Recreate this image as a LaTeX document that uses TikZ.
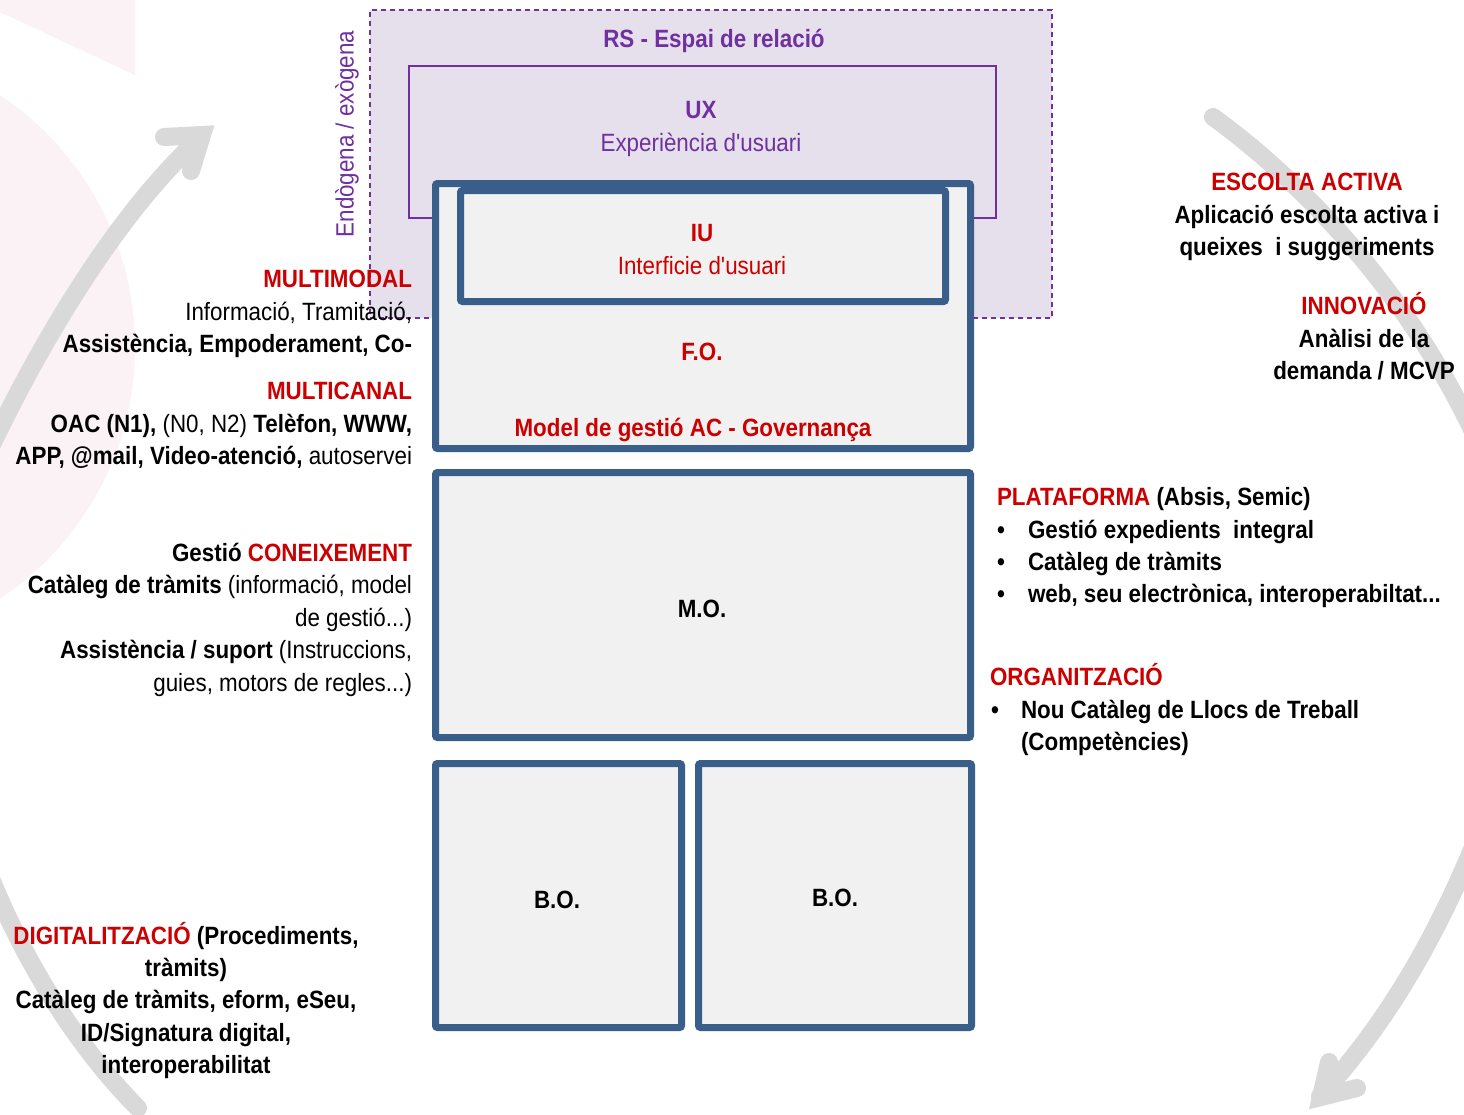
\documentclass[tikz,border=0pt]{standalone}
\usepackage{fontspec}
\setmainfont[FakeStretch=0.895]{Liberation Sans}
\newfontfamily\plainfont[FakeStretch=0.895]{Liberation Sans}
\definecolor{boxblue}{RGB}{58,94,138}
\definecolor{boxfill}{RGB}{241,241,241}
\definecolor{lav}{RGB}{229,224,236}
\definecolor{purp}{RGB}{112,48,160}
\definecolor{redt}{RGB}{204,0,0}
\definecolor{arrowgray}{RGB}{217,217,217}
\definecolor{pinkbg}{RGB}{250,242,244}
\newcommand{\apos}{{\plainfont '}}
\begin{document}
\begin{tikzpicture}[x=1pt,y=-1pt,
  every node/.style={inner sep=0pt, outer sep=0pt, font=\fontsize{25}{32}\selectfont},
  layer/.style={draw=boxblue, line width=7pt, fill=boxfill, rounded corners=2pt},
  cyc/.style={draw=arrowgray, line width=18pt, line cap=round},
  chev/.style={draw=arrowgray, line width=18pt, line cap=round, line join=miter},
  rb/.style={font=\fontsize{25}{32}\selectfont\bfseries, text=redt},
  pb/.style={font=\fontsize{25}{32}\selectfont\bfseries, text=purp},
  bb/.style={font=\fontsize{25}{32}\selectfont\bfseries, text=black},
  le/.style={anchor=base east},
  lw/.style={anchor=base west},
  lc/.style={anchor=base}
]
\clip (0,0) rectangle (1464,1114);
\fill[white] (0,0) rectangle (1464,1114);
% faint pink background shapes
\fill[pinkbg] (0,0) -- (135,0) -- (135,75) -- (0,12) -- cycle;
\fill[pinkbg] (-167,347) circle[radius=302];
% grey cycle arrows
\draw[cyc] (-20,470) .. controls (40,340) and (120,210) .. (200,138);
\draw[chev] (164,137) -- (202,135) -- (191,171);
\draw[cyc] (1213,117) .. controls (1300,180) and (1420,300) .. (1490,470);
\draw[cyc] (1480,830) .. controls (1440,930) and (1390,1020) .. (1320,1096);
\draw[chev] (1329,1062) -- (1321,1097) -- (1357,1088);
\draw[cyc] (-20,850) .. controls (20,960) and (80,1050) .. (138,1108);
% relation space
\node[draw=purp, dashed, dash pattern=on 5pt off 4pt, line width=1.5pt, fill=lav,
      minimum width=682pt, minimum height=308pt] (rs) at (711,164) {};
\node[draw=purp, line width=1.5pt, fill=lav, minimum width=587pt, minimum height=152pt] (ux) at (702.5,142) {};
\node[pb, lc] (rst) at (714,47) {RS - Espai de relació};
\node[pb, lc] (uxt) at (701,118) {UX};
\node[lc, text=purp] (uxs) at (701,151) {Experiència d\apos usuari};
\node[lc, text=purp, rotate=90, anchor=center] (endo) at (347,134) {Endògena / exògena};
% layers
\node[layer, minimum width=535pt, minimum height=265pt] (fo) at (703,316) {};
\node[layer, minimum width=485pt, minimum height=111pt] (iu) at (703,246) {};
\node[rb, lc] (iut) at (702,241) {IU};
\node[lc, text=redt] (ius) at (702,274) {Interficie d\apos usuari};
\node[rb, lc] (fot) at (702,360) {F.O.};
\node[rb, lc] (gov) at (693,436) {Model de gestió AC - Governança};
\node[layer, minimum width=535pt, minimum height=265pt] (mo) at (703,605) {};
\node[bb, lc] (mot) at (702,617) {M.O.};
\node[layer, minimum width=246pt, minimum height=264pt] (bo1) at (558.5,895.5) {};
\node[layer, minimum width=273pt, minimum height=264pt] (bo2) at (835,895.5) {};
\node[bb, lc] (bo1t) at (557,908) {B.O.};
\node[bb, lc] (bo2t) at (835,906) {B.O.};
% left texts
\node[rb, le] (l1) at (412,287) {MULTIMODAL};
\node[le] (l2) at (412,320) {Informació, Tramitació,};
\node[bb, le] (l3) at (412,352) {Assistència, Empoderament, Co-};
\node[rb, le] (l4) at (412,399) {MULTICANAL};
\node[le] (l5) at (412,432) {{\bfseries OAC (N1),} (N0, N2) {\bfseries Telèfon, WWW,}};
\node[le] (l6) at (412,464) {{\bfseries APP, @mail, Video-atenció,} autoservei};
\node[bb, le] (l7) at (412,561) {Gestió {\color{redt}CONEIXEMENT}};
\node[le] (l8) at (412,593) {{\bfseries Catàleg de tràmits} (informació, model};
\node[le] (l9) at (412,626) {de gestió...)};
\node[le] (l10) at (412,658) {{\bfseries Assistència / suport} (Instruccions,};
\node[le] (l11) at (412,691) {guies, motors de regles...)};
% bottom-left texts
\node[bb, lc] (d1) at (186,944) {{\color{redt}DIGITALITZACIÓ} (Procediments,};
\node[bb, lc] (d2) at (186,976) {tràmits)};
\node[bb, lc] (d3) at (186,1008) {Catàleg de tràmits, eform, eSeu,};
\node[bb, lc] (d4) at (186,1041) {ID/Signatura digital,};
\node[bb, lc] (d5) at (186,1073) {interoperabilitat};
% right top texts
\node[rb, lc] (e1) at (1307,190) {ESCOLTA ACTIVA};
\node[bb, lc] (e2) at (1307,223) {Aplicació escolta activa i};
\node[bb, lc] (e3) at (1307,255) {queixes\ \ i suggeriments};
\node[rb, lc] (n1) at (1364,314) {INNOVACIÓ};
\node[bb, lc] (n2) at (1364,347) {Anàlisi de la};
\node[bb, lc] (n3) at (1364,379) {demanda / MCVP};
% right middle texts
\node[bb, lw] (p1) at (997,505) {{\color{redt}PLATAFORMA} (Absis, Semic)};
\node[bb, lw] (pb1) at (997,538) {•};
\node[bb, lw] (p2) at (1028,538) {Gestió expedients\ \ integral};
\node[bb, lw] (pb2) at (997,570) {•};
\node[bb, lw] (p3) at (1028,570) {Catàleg de tràmits};
\node[bb, lw] (pb3) at (997,602) {•};
\node[bb, lw] (p4) at (1028,602) {web, seu electrònica, interoperabiltat...};
\node[rb, lw] (o1) at (990,685) {ORGANITZACIÓ};
\node[bb, lw] (ob1) at (991,718) {•};
\node[bb, lw] (o2) at (1021,718) {Nou Catàleg de Llocs de Treball};
\node[bb, lw] (o3) at (1021,750) {(Competències)};
\end{tikzpicture}
\end{document}
